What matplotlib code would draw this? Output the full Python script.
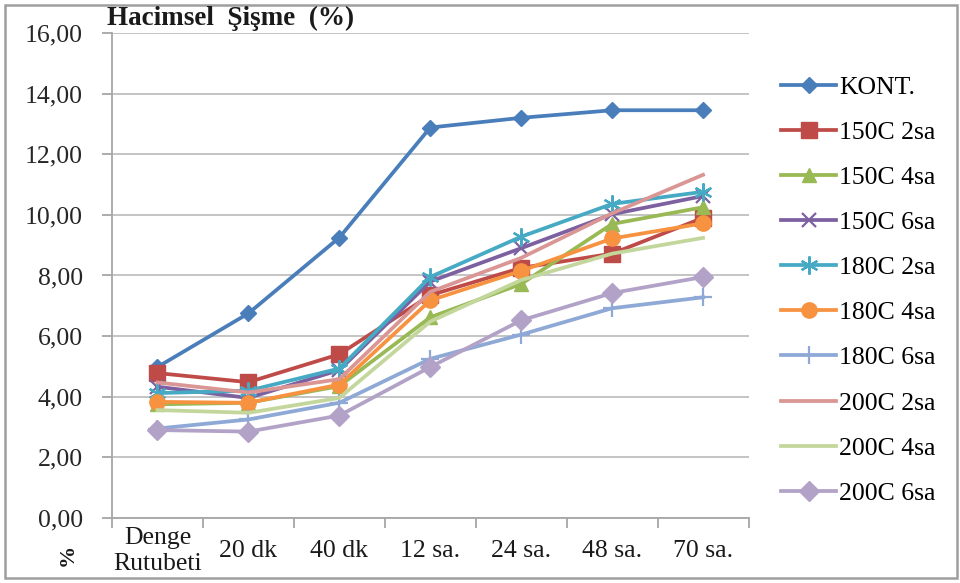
import matplotlib.pyplot as plt
from matplotlib.patches import Rectangle

plt.rcParams["font.family"] = ["Liberation Serif", "DejaVu Serif"]

# ------------------------
# Data: volumetric swelling (%) over soaking time
# ------------------------
categories = ["Denge\nRutubeti", "20 dk", "40 dk", "12 sa.", "24 sa.", "48 sa.", "70 sa."]

kont = [4.98, 6.75, 9.25, 12.88, 13.20, 13.45, 13.45]
c150_2 = [4.78, 4.48, 5.40, 7.35, 8.25, 8.72, 9.90]
c150_4 = [3.75, 3.80, 4.35, 6.62, 7.72, 9.70, 10.25]
c150_6 = [4.33, 3.96, 4.88, 7.80, 8.90, 10.02, 10.62]
c180_2 = [4.12, 4.20, 4.93, 7.95, 9.28, 10.36, 10.76]
c180_4 = [3.83, 3.80, 4.40, 7.18, 8.15, 9.22, 9.72]
c180_6 = [2.95, 3.25, 3.80, 5.25, 6.05, 6.92, 7.28]
c200_2 = [4.47, 4.14, 4.58, 7.46, 8.58, 10.05, 11.32]
c200_4 = [3.56, 3.47, 3.96, 6.48, 7.85, 8.72, 9.24]
c200_6 = [2.90, 2.85, 3.38, 4.98, 6.52, 7.42, 7.95]

series = [
    ("KONT.", kont, "#4A7EBB", "D", 8),
    ("150C 2sa", c150_2, "#BE4B48", "s", 11),
    ("150C 4sa", c150_4, "#98B954", "^", 10),
    ("150C 6sa", c150_6, "#7D60A0", "x", 10),
    ("180C 2sa", c180_2, "#46AAC5", (6, 2, 0), 13),
    ("180C 4sa", c180_4, "#F69240", "o", 11),
    ("180C 6sa", c180_6, "#8EA9D5", "+", 13),
    ("200C 2sa", c200_2, "#D99694", None, 0),
    ("200C 4sa", c200_4, "#C3D69B", None, 0),
    ("200C 6sa", c200_6, "#B3A2C7", "D", 10),
]

FS = 18.5

# ------------------------
# Figure
# ------------------------
fig = plt.figure(figsize=(9.6, 5.83), dpi=100)
ax = fig.add_axes([0.1167, 0.1115, 0.663, 0.832])

x = list(range(len(categories)))
for name, vals, color, marker, ms in series:
    ax.plot(x, vals, color=color, linewidth=2.7, marker=marker, markersize=ms,
            markeredgewidth=1.6 if marker in ("x", "+", (6, 2, 0)) else 1.0,
            markeredgecolor=color, label=name)

ax.set_xlim(-0.5, len(categories) - 0.5)
ax.set_ylim(0, 16)
ax.set_yticks(range(0, 17, 2))
ax.set_yticklabels([f"{v:.2f}".replace(".", ",") for v in range(0, 17, 2)], fontsize=FS, color="#262626")
ax.yaxis.grid(True, color="#BFBFBF", linewidth=1.3)
ax.set_axisbelow(True)

ax.set_xticks(x)
ax.set_xticklabels(categories, fontsize=FS, color="#1A1A1A", linespacing=1.25, va="center")
ax.tick_params(axis="x", length=0, pad=24)
ax.set_xticks([i - 0.5 for i in range(len(categories) + 1)], minor=True)
ax.tick_params(axis="x", which="minor", length=7, width=1.3, color="#A6A6A6", direction="out")
ax.tick_params(axis="y", length=7, width=1.3, color="#A6A6A6", pad=14)

for side in ("top", "right"):
    ax.spines[side].set_visible(False)
for side in ("left", "bottom"):
    ax.spines[side].set_color("#A6A6A6")
    ax.spines[side].set_linewidth(1.3)

fig.text(107 / 960, 1 - 18 / 583, "Hacimsel  Şişme  (%)", fontsize=19.5,
         fontweight="bold", va="center", ha="left", color="#1A1A1A")
fig.text(68 / 960, 1 - 555 / 583, "%", fontsize=16, fontweight="bold",
         rotation=90, ha="center", va="center", color="#1A1A1A")

ax.legend(loc="upper left", bbox_to_anchor=(781 / 960, 1 - 76 / 583),
          bbox_transform=fig.transFigure, frameon=False, fontsize=FS,
          handlelength=2.15, handletextpad=0.12, labelspacing=0.86,
          borderaxespad=0, borderpad=0)

# outer chart frame
fig.patches.append(Rectangle((5 / 960, 5 / 583), 952 / 960, 573 / 583,
                             transform=fig.transFigure, fill=False,
                             edgecolor="#9E9E9E", linewidth=1.8))

fig.savefig("out.png", dpi=100)
